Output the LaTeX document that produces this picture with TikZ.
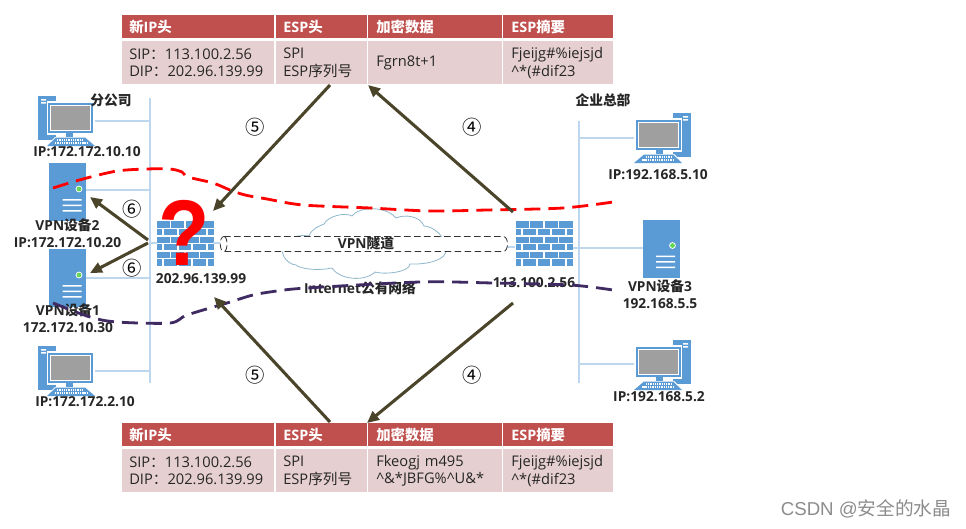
\documentclass[tikz,border=0pt]{standalone}
\usepackage{fontspec}
\setmainfont{Open Sans}
\newfontfamily\cjk{Noto Sans CJK SC}
\newfontfamily\lib{Liberation Sans}
\newcommand{\C}[1]{{\cjk #1}}
\usetikzlibrary{arrows.meta}
\definecolor{blu}{HTML}{5B9BD5}
\definecolor{lbl}{HTML}{BDD7EE}
\definecolor{hdr}{HTML}{C0504D}
\definecolor{cel}{HTML}{E6CFD0}
\definecolor{arw}{HTML}{4A452A}
\definecolor{pur}{HTML}{3F2A62}
\definecolor{cld}{HTML}{8FB8CC}
\tikzset{
 x=0.75pt,y=-0.75pt,
 bus/.style={draw=lbl,line width=0.8pt},
 hcell/.style={draw=none,fill=hdr,text=white,anchor=north west,inner sep=0pt,font=\fontsize{10.8}{11}\selectfont\bfseries,align=left,minimum height=17.25pt},
 bcell/.style={draw=none,fill=cel,text=black!85,anchor=north west,inner sep=0pt,font=\fontsize{11}{13.3}\selectfont,align=left,minimum height=32.25pt},
 lab/.style={font=\fontsize{10.3}{12.75}\selectfont\bfseries,text=black!85,align=center,inner sep=0pt},
 circ/.style={font=\fontsize{14.5}{14.5}\selectfont\cjk,inner sep=0pt,text=black},
 bigarrow/.style={draw=arw,line width=2.3pt,-{Triangle[length=9pt,width=8pt]}},
 reddash/.style={draw=red,line width=2.1pt,dash pattern=on 12pt off 6pt},
 purdash/.style={draw=pur,line width=2.1pt,dash pattern=on 12pt off 6pt},
 tunnel/.style={draw=black!80,line width=0.6pt,dash pattern=on 5pt off 2.5pt},
 pics/computer/.style={code={
  \fill[blu] (-21,-24) rectangle (-3,20);
  \fill[white] (-18,-21) rectangle (-13,-19.5) (-18,-18) rectangle (-13,-16.5);
  \fill[white] (-12,-19) rectangle (36,15);
  \fill[blu] (-11,-17) rectangle (34,13);
  \fill[white] (-9,-15) rectangle (32,11);
  \fill[gray!75] (-8,-14) rectangle (31,10);
  \fill[blu] (7,13) rectangle (14,18);
  \fill[white] (-4,17) -- (26,17) -- (37,27) -- (-14,27) -- cycle;
  \fill[blu] (-3,17.5) -- (26,17.5) -- (36,26) -- (-12,26) -- cycle;
  \draw[white,line width=1.4pt,dash pattern=on 1pt off 0.7pt] (-2,20) -- (25,20);
  \draw[white,line width=1.4pt,dash pattern=on 1pt off 0.7pt] (-4,23) -- (28,23);
 }},
 pics/server/.style={code={
  \fill[blu] (-18.5,-29) rectangle (18.5,29);
  \fill[white] (11.5,-3) circle (3.4);
  \fill[green!60!yellow!60!blu] (11.5,-3) circle (2.4);
  \fill[white] (-5,7) rectangle (14,8.6) (-5,12.5) rectangle (14,14.1) (-5,18) rectangle (14,19.6);
 }},
 pics/firewall/.style={code={
  \fill[blu] (-28.5,-22.5) rectangle (28.5,22.5);
  \foreach \k in {1,...,5} \draw[white,line width=0.8pt] (-28.5,-22.5+7.5*\k) -- (28.5,-22.5+7.5*\k);
  \foreach \k in {0,2,4} \foreach \x in {-14.5,0,14.5} \draw[white,line width=0.8pt] (\x,-22.5+7.5*\k) -- (\x,-15+7.5*\k);
  \foreach \k in {1,3,5} \foreach \x in {-22,-7,7,22} \draw[white,line width=0.8pt] (\x,-22.5+7.5*\k) -- (\x,-15+7.5*\k);
 }},
}
% #1 suffix, #2 header top, #3 body top, #4 third cell text
\newcommand{\esptable}[4]{%
 \node[hcell,minimum width=114pt,text width=114pt] (#1a) at (122,#2) {\hspace{5.25pt}\C{新}IP\C{头}};
 \node[hcell,minimum width=68pt,text width=68pt] (#1b) at (276,#2) {\hspace{5.25pt}ESP\C{头}};
 \node[hcell,minimum width=100pt,text width=100pt] (#1c) at (368,#2) {\hspace{6pt}\C{加密数据}};
 \node[hcell,minimum width=82pt,text width=82pt] (#1d) at (503,#2) {\hspace{6pt}ESP\C{摘要}};
 \node[bcell,minimum width=114pt,text width=114pt] (#1e) at (122,#3) {\hspace{5.25pt}SIP\C{：}113.100.2.56\\\hspace{5.25pt}DIP\C{：}202.96.139.99};
 \node[bcell,minimum width=68pt,text width=68pt] (#1f) at (276,#3) {\hspace{5.25pt}SPI\\\hspace{5.25pt}ESP\C{序列号}};
 \node[bcell,minimum width=100pt,text width=100pt] (#1g) at (368,#3) {#4};
 \node[bcell,minimum width=82pt,text width=82pt] (#1h) at (503,#3) {\hspace{6pt}Fjeijg\#\%iejsjd\\\hspace{6pt}\string^*(\#dif23};
}
\begin{document}
\begin{tikzpicture}
\useasboundingbox[fill=white] (0,0) rectangle (966,528);
% buses
\coordinate (lt) at (150,98); \coordinate (lb) at (150,383);
\coordinate (rt) at (579,121); \coordinate (rb) at (579,383);
\draw[bus] (lt) -- (lb);
\draw[bus] (rt) -- (rb);
\coordinate (l1) at (150,121); \coordinate (l2) at (150,190); \coordinate (l3) at (150,243); \coordinate (l4) at (150,278); \coordinate (l5) at (150,371);
\coordinate (r1) at (579,138); \coordinate (r2) at (579,248); \coordinate (r3) at (579,364);
\coordinate (pc1) at (90,121); \coordinate (sv2) at (70,190); \coordinate (sv1) at (70,278); \coordinate (pc2) at (90,371);
\coordinate (pc3) at (640,138); \coordinate (sv3) at (650,248); \coordinate (pc4) at (640,364);
\draw[bus] (pc1) -- (l1); \draw[bus] (sv2) -- (l2); \draw[bus] (sv1) -- (l4); \draw[bus] (pc2) -- (l5);
\draw[bus] (pc3) -- (r1); \draw[bus] (sv3) -- (r2); \draw[bus] (pc4) -- (r3);
% cloud
\draw[draw=cld,line width=0.6pt,fill=white] (309,236)
 .. controls (312,228) and (320,226) .. (324,224)
 .. controls (328,216) and (345,212) .. (352,216)
 .. controls (358,207) and (385,205) .. (396,218)
 .. controls (405,214) and (420,216) .. (424,226)
 .. controls (432,226) and (446,236) .. (444,246)
 .. controls (452,255) and (436,265) .. (410,264)
 .. controls (410,272) and (385,275) .. (375,272)
 .. controls (365,282) and (340,280) .. (332,268)
 .. controls (318,271) and (300,269) .. (296,265)
 .. controls (285,264) and (278,250) .. (285,243)
 .. controls (288,238) and (300,234) .. (309,236) -- cycle;
% devices
\pic at (59,120) {computer};
\pic at (59,370) {computer};
\pic[xscale=-1] at (670,137) {computer};
\pic[xscale=-1] at (670,364) {computer};
\pic at (67.5,192) {server};
\pic at (67.5,278) {server};
\pic at (661,248.5) {server};
\pic at (185,243.5) {firewall};
\pic at (544,243.5) {firewall};
\draw[bus] (l3) -- (157,243);
\draw[bus] (213,243) -- (221,243);
\draw[bus] (507,247) -- (515,247);
\draw[bus] (573,248) -- (r2);
% question mark
\node[inner sep=0pt,text=red,font=\fontsize{70}{70}\selectfont\lib\bfseries,xscale=0.9,transform shape] (q) at (184,232.5) {?};
% tunnel
\draw[tunnel,fill=white] (224,236.5) -- (503,236.5) .. controls (509,236.5) and (509,251.5) .. (503,251.5) -- (224,251.5) .. controls (219,251.5) and (219,236.5) .. (224,236.5) -- cycle;
\draw[tunnel] (224,236.5) .. controls (228,236.5) and (228,251.5) .. (224,251.5);
% labels
\node[lab] (t1) at (111,100) {\C{分公司}};
\node[lab] (t2) at (603,100) {\C{企业总部}};
\node[lab] (ip1) at (87,152) {IP:172.172.10.10};
\node[lab] (ip2) at (67.5,233.5) {VPN\C{设备}2\\IP:172.172.10.20};
\node[lab] (ip3) at (68,318) {VPN\C{设备}1\\172.172.10.30};
\node[lab] (ip4) at (85,402) {IP:172.172.2.10};
\node[lab] (ip5) at (201,279) {202.96.139.99};
\node[lab] (ip6) at (534,283) {113.100.2.56};
\node[lab] (ip7) at (658,175) {IP:192.168.5.10};
\node[lab] (ip8) at (660,294.5) {VPN\C{设备}3\\192.168.5.5};
\node[lab] (ip9) at (659,397) {IP:192.168.5.2};
\node[lab] (vt) at (366,243) {VPN\C{隧道}};
\node[lab] (inet) at (360,288) {Internet\C{公有网络}};
% dashed
\draw[reddash] plot[smooth,tension=0.5] coordinates {(53,188) (83,179) (117,171) (147,169) (170,169) (182,172) (188,177) (213,183) (230,190) (245,195) (267,199) (303,205) (370,208) (430,211) (487,210) (563,208) (613,202)};
\draw[purdash] plot[smooth,tension=0.5] coordinates {(53,303) (90,317) (117,322) (170,323) (187,315) (227,303) (253,295) (277,291) (307,288) (420,282) (493,283) (570,285) (613,290)};
% arrows
\coordinate (a1s) at (330,85); \coordinate (a1e) at (213,211);
\coordinate (a2s) at (513,212); \coordinate (a2e) at (368,85);
\coordinate (a3s) at (330,422); \coordinate (a3e) at (214,297);
\coordinate (a4s) at (513,303); \coordinate (a4e) at (367,423);
\coordinate (a5s) at (148,240); \coordinate (a5e) at (90,197);
\coordinate (a6s) at (148,243); \coordinate (a6e) at (90,273);
\draw[bigarrow] (a1s) -- (a1e);
\draw[bigarrow] (a2s) -- (a2e);
\draw[bigarrow] (a3s) -- (a3e);
\draw[bigarrow] (a4s) -- (a4e);
\draw[bigarrow] (a5s) -- (a5e);
\draw[bigarrow] (a6s) -- (a6e);
\node[circ] (c1) at (255,127) {⑤};
\node[circ] (c2) at (472,127) {④};
\node[circ] (c3) at (255,375) {⑤};
\node[circ] (c4) at (472,375) {④};
\node[circ] (c5) at (132,209) {⑥};
\node[circ] (c6) at (132,268) {⑥};
% tables
\esptable{p}{15}{41}{\hspace{6pt}Fgrn8t+1\\}
\esptable{q}{423}{449}{\hspace{6pt}Fkeogj m495\\\hspace{6pt}\string^\&*JBFG\%\string^U\&*}
% watermark
\node[inner sep=0pt,text=black!45,font=\fontsize{14}{16}\selectfont\lib] (wm) at (866,509) {CSDN @\C{安全的水晶}};
\end{tikzpicture}
\end{document}
